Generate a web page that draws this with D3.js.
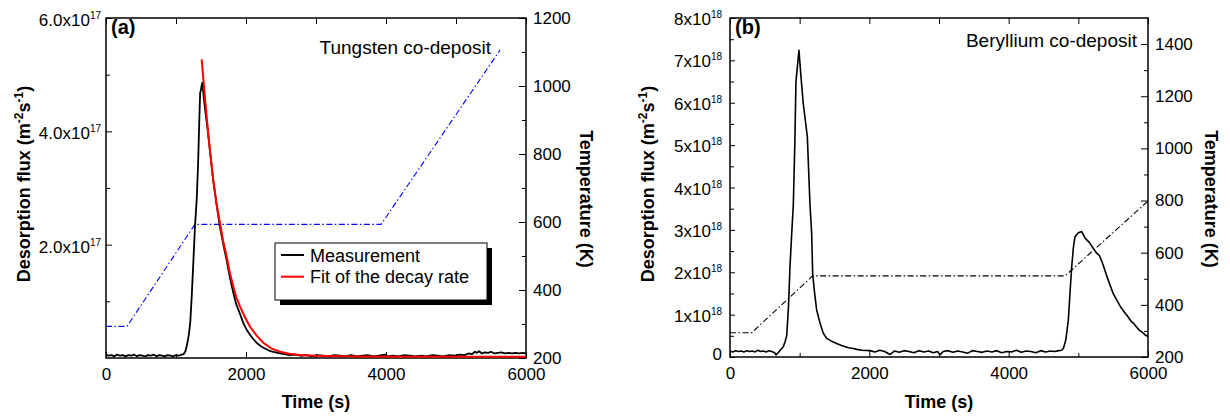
<!DOCTYPE html>
<html>
<head>
<meta charset="utf-8">
<script src="https://cdn.jsdelivr.net/npm/d3@7"></script>
<style>
  body { margin: 0; background: #fff; }
  text { font-family: Arial, "Liberation Sans", Helvetica, sans-serif; fill: #000; }
</style>
</head>
<body>
<div id="chart"></div>
<script>
// ---- panel (a): tungsten co-deposit, flux in 1e17 m^-2 s^-1 ----
const measATime = [0,40,80,120,160,200,240,280,320,360,400,440,480,520,560,600,640,680,720,760,800,840,880,920,960,1000,1040,1080,1110,1135,1160,1185,1205,1225,1247,1271,1296,1315,1333,1345,1355,1365,1376,1395,1414,1450,1486,1530,1580,1629,1680,1724,1770,1819,1860,1914,1960,2010,2057,2100,2150,2200,2247,2300,2350,2420,2486,2550,2620,2700,2780,2860,2940,3020,3100,3180,3260,3340,3420,3500,3580,3660,3740,3820,3900,3980,4020,4100,4180,4260,4340,4420,4500,4580,4660,4740,4820,4900,4980,5060,5120,5180,5230,5270,5300,5330,5370,5410,5460,5500,5550,5600,5650,5700,5750,5800,5850,5900,5950,6000];
const measAFlux = [0.06,0.04,0.05,0.03,0.06,0.04,0.05,0.03,0.05,0.04,0.06,0.03,0.05,0.04,0.03,0.05,0.04,0.06,0.03,0.05,0.04,0.03,0.05,0.04,0.03,0.05,0.04,0.06,0.07,0.12,0.25,0.42,0.65,1.1,1.67,2.32,2.8,3.4,4.2,4.68,4.72,4.8,4.86,4.62,4.4,4.05,3.65,3.15,2.7,2.3,1.98,1.72,1.42,1.15,0.95,0.78,0.62,0.5,0.41,0.34,0.27,0.22,0.18,0.15,0.12,0.1,0.08,0.07,0.05,0.06,0.04,0.05,0.03,0.05,0.04,0.03,0.05,0.04,0.03,0.05,0.03,0.04,0.05,0.03,0.04,0.06,0.03,0.04,0.03,0.05,0.04,0.03,0.04,0.03,0.05,0.04,0.03,0.05,0.04,0.06,0.05,0.08,0.07,0.11,0.09,0.12,0.08,0.1,0.09,0.11,0.08,0.09,0.1,0.08,0.09,0.08,0.09,0.08,0.09,0.08];
const fitATime = [1367,1410,1450,1490,1533,1580,1629,1676,1724,1770,1819,1865,1914,1985,2057,2150,2247,2360,2486,2620,2771,3000,3300,3700,4200,5000,6000];
const fitAFlux = [5.27,4.65,4.1,3.6,3.14,2.72,2.38,2.05,1.79,1.5,1.26,1.06,0.91,0.72,0.55,0.4,0.27,0.17,0.11,0.075,0.055,0.04,0.03,0.025,0.02,0.02,0.02];
const tempATime = [0,300,1270,3930,5630];
const tempAValue = [293,293,593,593,1106];

// ---- panel (b): beryllium co-deposit, flux in 1e18 m^-2 s^-1 ----
const measBTime = [0,40,80,120,160,200,240,280,320,360,400,440,480,520,560,600,640,660,690,720,765,790,814,840,861,886,909,930,947,970,990,1010,1050,1110,1148,1172,1187,1215,1244,1292,1339,1388,1450,1531,1600,1700,1770,1818,1900,2010,2080,2150,2220,2297,2360,2430,2500,2570,2640,2710,2780,2850,2920,2980,3014,3060,3130,3200,3270,3340,3410,3480,3550,3620,3690,3760,3830,3900,3970,4040,4110,4180,4250,4320,4390,4460,4530,4600,4660,4720,4760,4785,4820,4856,4880,4905,4930,4952,5000,5048,5100,5160,5220,5263,5300,5350,5400,5450,5500,5550,5600,5650,5700,5750,5789,5830,5870,5920,5960,6000];
const measBFlux = [0.14,0.12,0.15,0.13,0.14,0.12,0.15,0.13,0.14,0.12,0.16,0.13,0.14,0.12,0.15,0.13,0.1,0.05,0.1,0.16,0.24,0.36,0.5,1.2,2.13,2.92,3.6,5.0,6.5,6.9,7.24,6.8,6.0,5.2,3.6,2.92,1.95,1.5,1.11,0.8,0.56,0.44,0.38,0.32,0.27,0.22,0.2,0.18,0.16,0.15,0.12,0.16,0.13,0.06,0.14,0.11,0.15,0.13,0.1,0.15,0.12,0.14,0.1,0.13,0.05,0.13,0.15,0.11,0.14,0.12,0.09,0.15,0.13,0.11,0.14,0.12,0.15,0.1,0.13,0.12,0.16,0.11,0.14,0.13,0.1,0.15,0.12,0.14,0.13,0.15,0.16,0.2,0.4,0.87,1.5,2.13,2.6,2.84,2.93,2.96,2.8,2.7,2.55,2.45,2.4,2.2,1.95,1.72,1.5,1.35,1.2,1.08,0.98,0.86,0.8,0.72,0.64,0.58,0.52,0.48];
const tempBTime = [0,311,1187,4809,6000];
const tempBValue = [293,293,511,511,798];

// ---- axes ----
const timeLabels = [0,2000,4000,6000];
const timeMinor = [1000,3000,5000];
const fluxLabelsA = [2,4,6];
const fluxMantA = ["2.0x10","4.0x10","6.0x10"];
const fluxMinorA = [1,3,5];
const fluxLabelsB = [0,1,2,3,4,5,6,7,8];
const fluxMantB = ["0","1x10","2x10","3x10","4x10","5x10","6x10","7x10","8x10"];
const fluxMinorB = [0.5,1.5,2.5,3.5,4.5,5.5,6.5,7.5];
const tempLabelsA = [200,400,600,800,1000,1200];
const tempMinorA = [300,500,700,900,1100];
const tempLabelsB = [200,400,600,800,1000,1200,1400];
const tempMinorB = [300,500,700,900,1100,1300];

const W = 1230, H = 419;
const svg = d3.select("#chart").append("svg")
    .attr("width", W).attr("height", H);

const dashDot = "6,2.5,1.5,2.5";
const plain = d3.format("d");

function drawPanel(p) {
    let x = d3.scaleLinear().domain([0, 6000]).range([p.left, p.right]);
    let y = d3.scaleLinear().domain(p.fluxDomain).range([p.bottom, p.top]);
    let yT = d3.scaleLinear().domain(p.tempDomain).range([p.bottom, p.top]);

    let g = svg.append("g");

    function tidy(sel) {
        sel.select(".domain").remove();
        sel.attr("font-family", null).attr("font-size", 17);
        sel.selectAll("line").attr("stroke", "#000");
    }

    // bottom ticks (inward)
    g.append("g").attr("transform", "translate(0," + p.bottom + ")")
        .call(d3.axisBottom(x).tickValues(timeLabels).tickSize(-6).tickPadding(10).tickFormat(plain))
        .call(tidy);
    g.append("g").attr("transform", "translate(0," + p.bottom + ")")
        .call(d3.axisBottom(x).tickValues(timeMinor).tickSize(-4).tickFormat(""))
        .call(tidy);
    // top ticks
    g.append("g").attr("transform", "translate(0," + p.top + ")")
        .call(d3.axisTop(x).tickValues(timeMinor.concat(timeLabels)).tickSize(-6).tickFormat(""))
        .call(tidy);

    // left ticks
    g.append("g").attr("transform", "translate(" + p.left + ",0)")
        .call(d3.axisLeft(y).tickValues(p.fluxLabels).tickSize(-p.majorLeft).tickFormat(""))
        .call(tidy);
    g.append("g").attr("transform", "translate(" + p.left + ",0)")
        .call(d3.axisLeft(y).tickValues(p.fluxMinor).tickSize(-4).tickFormat(""))
        .call(tidy);

    // left tick labels with superscript exponent
    p.fluxLabels.forEach((v, i) => {
        let t = g.append("text")
            .attr("x", p.left - p.labelGap)
            .attr("y", y(v) + (v === 0 ? 3 : p.labelDy))
            .attr("text-anchor", "end")
            .attr("font-size", 17);
        t.append("tspan").text(p.fluxMant[i]);
        if (v !== 0) {
            t.append("tspan").attr("dy", -7).attr("font-size", 10).text(p.exponent);
        }
    });

    // right temperature axis
    g.append("g").attr("transform", "translate(" + p.right + ",0)")
        .call(d3.axisRight(yT).tickValues(p.tempLabels).tickSize(-7).tickPadding(7).tickFormat(plain))
        .call(tidy);
    g.append("g").attr("transform", "translate(" + p.right + ",0)")
        .call(d3.axisRight(yT).tickValues(p.tempMinor).tickSize(-4).tickFormat(""))
        .call(tidy);

    // frame
    g.append("rect")
        .attr("x", p.left).attr("y", p.top)
        .attr("width", p.right - p.left).attr("height", p.bottom - p.top)
        .attr("fill", "none").attr("stroke", "#000").attr("stroke-width", 1.5);

    // temperature ramp
    let tempPts = p.tempTime.map((t, i) => [t, p.tempValue[i]]);
    g.append("path")
        .datum(tempPts)
        .attr("fill", "none")
        .attr("stroke", p.tempColor)
        .attr("stroke-width", 1.1)
        .attr("stroke-dasharray", dashDot)
        .attr("d", d3.line().x(d => x(d[0])).y(d => yT(d[1])));

    let line = d3.line().x(d => x(d[0])).y(d => y(d[1]));

    // measurement
    let measPts = p.measTime.map((t, i) => [t, p.measFlux[i]]);
    g.append("path")
        .datum(measPts)
        .attr("fill", "none")
        .attr("stroke", "#000")
        .attr("stroke-width", p.measWidth)
        .attr("stroke-linejoin", "round")
        .attr("d", line);

    // fit of decay rate
    if (p.fitTime) {
        let fitPts = p.fitTime.map((t, i) => [t, p.fitFlux[i]]);
        g.append("path")
            .datum(fitPts)
            .attr("fill", "none")
            .attr("stroke", "#ff0000")
            .attr("stroke-width", 2)
            .attr("d", line);
    }

    // panel letter and label
    g.append("text").attr("x", p.left + 5).attr("y", p.top + 16)
        .attr("font-size", 20).attr("font-weight", "bold").text(p.letter);
    g.append("text").attr("x", p.noteX).attr("y", p.noteY)
        .attr("text-anchor", "end").attr("font-size", 19).text(p.note);

    // axis titles
    g.append("text")
        .attr("x", (p.left + p.right) / 2).attr("y", 408)
        .attr("text-anchor", "middle").attr("font-size", 18).attr("font-weight", "bold")
        .text("Time (s)");

    let lt = g.append("text")
        .attr("transform", "translate(" + p.leftTitleX + ",184) rotate(-90)")
        .attr("text-anchor", "middle").attr("font-size", 18).attr("font-weight", "bold");
    lt.append("tspan").text("Desorption flux (m");
    lt.append("tspan").attr("dy", -7).attr("font-size", 12).text("-2");
    lt.append("tspan").attr("dy", 7).text("s");
    lt.append("tspan").attr("dy", -7).attr("font-size", 12).text("-1");
    lt.append("tspan").attr("dy", 7).text(")");

    g.append("text")
        .attr("transform", "translate(" + p.rightTitleX + ",199) rotate(90)")
        .attr("text-anchor", "middle").attr("font-size", 18).attr("font-weight", "bold")
        .text("Temperature (K)");

    return { x: x, y: y };
}

drawPanel({
    left: 106, right: 526, top: 18, bottom: 358,
    fluxDomain: [0, 6], tempDomain: [200, 1200],
    fluxLabels: fluxLabelsA, fluxMant: fluxMantA, fluxMinor: fluxMinorA, exponent: "17",
    tempLabels: tempLabelsA, tempMinor: tempMinorA,
    majorLeft: 6, labelGap: 5, labelDy: 8,
    tempTime: tempATime, tempValue: tempAValue, tempColor: "#0000ff",
    measTime: measATime, measFlux: measAFlux, measWidth: 1.8,
    fitTime: fitATime, fitFlux: fitAFlux,
    letter: "(a)", note: "Tungsten co-deposit", noteX: 491, noteY: 54,
    leftTitleX: 30, rightTitleX: 580
});

drawPanel({
    left: 730, right: 1148, top: 18, bottom: 357,
    fluxDomain: [0, 8], tempDomain: [200, 1500],
    fluxLabels: fluxLabelsB, fluxMant: fluxMantB, fluxMinor: fluxMinorB, exponent: "18",
    tempLabels: tempLabelsB, tempMinor: tempMinorB,
    majorLeft: 5, labelGap: 8, labelDy: 7,
    tempTime: tempBTime, tempValue: tempBValue, tempColor: "#000",
    measTime: measBTime, measFlux: measBFlux, measWidth: 1.6,
    letter: "(b)", note: "Beryllium co-deposit", noteX: 1137, noteY: 47,
    leftTitleX: 654, rightTitleX: 1205
});

// legend for panel (a)
const legendNames = ["Measurement", "Fit of the decay rate"];
const legendColors = ["#000", "#ff0000"];
const legend = svg.append("g").attr("transform", "translate(275,243)");
legend.append("rect").attr("x", 5).attr("y", 5).attr("width", 212).attr("height", 57).attr("fill", "#000");
legend.append("rect").attr("width", 212).attr("height", 57)
    .attr("fill", "#fff").attr("stroke", "#000").attr("stroke-width", 1);
legendNames.forEach((name, i) => {
    let ly = 12 + i * 21.7;
    legend.append("line").attr("x1", 6).attr("x2", 29).attr("y1", ly).attr("y2", ly)
        .attr("stroke", legendColors[i]).attr("stroke-width", 2);
    legend.append("text").attr("x", 35).attr("y", ly + 6.5).attr("font-size", 18).text(name);
});
</script>
</body>
</html>
